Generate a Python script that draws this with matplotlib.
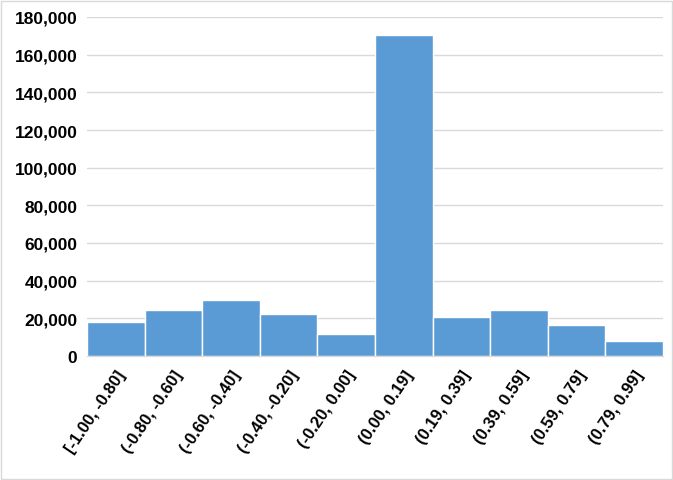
import matplotlib
matplotlib.use("Agg")
import matplotlib.pyplot as plt
from matplotlib.patches import Rectangle
from matplotlib.ticker import FuncFormatter, MultipleLocator

categories = ["[-1.00, -0.80]", "(-0.80, -0.60]", "(-0.60, -0.40]", "(-0.40, -0.20]",
              "(-0.20, 0.00]", "(0.00, 0.19]", "(0.19, 0.39]", "(0.39, 0.59]",
              "(0.59, 0.79]", "(0.79, 0.99]"]
counts = [18200, 24500, 29900, 22400, 11800, 170700, 20800, 24500, 16500, 8000]

plt.rcParams['font.family'] = ['Liberation Sans', 'DejaVu Sans']

fig = plt.figure(figsize=(6.73, 4.81), dpi=100)
ax = fig.add_axes([87/673, 1 - 357/481, (663 - 87)/673, (357 - 18)/481])

x = list(range(len(categories)))
ax.bar(x, counts, width=1.0, color="#5B9BD5", edgecolor="white", linewidth=1.0, zorder=3)
ax.set_xlim(-0.5, len(categories) - 0.5)
ax.set_ylim(0, 180000)
ax.yaxis.set_major_locator(MultipleLocator(20000))
ax.yaxis.set_major_formatter(FuncFormatter(lambda v, p: f"{int(v):,}"))
ax.grid(axis="y", color="#D9D9D9", linewidth=1.0, zorder=0)
for s in ["top", "right", "left"]:
    ax.spines[s].set_visible(False)
ax.spines["bottom"].set_color("#D9D9D9")
ax.spines["bottom"].set_zorder(4)
ax.tick_params(axis="both", length=0)
ax.tick_params(axis="y", pad=7)
ax.set_xticks(x)
ax.set_xticklabels(categories, rotation=56, ha="right", rotation_mode="anchor",
                   fontsize=12, fontweight="bold")
ax.tick_params(axis="x", pad=8)
for lab in ax.get_yticklabels():
    lab.set_fontsize(12.5)
    lab.set_fontweight("bold")

fig.patches.append(Rectangle((0.5/673, 1.5/481), 671.5/673, 478/481, transform=fig.transFigure,
                             fill=False, edgecolor="#D9D9D9", linewidth=1.0))

fig.savefig("out.png", dpi=100)
